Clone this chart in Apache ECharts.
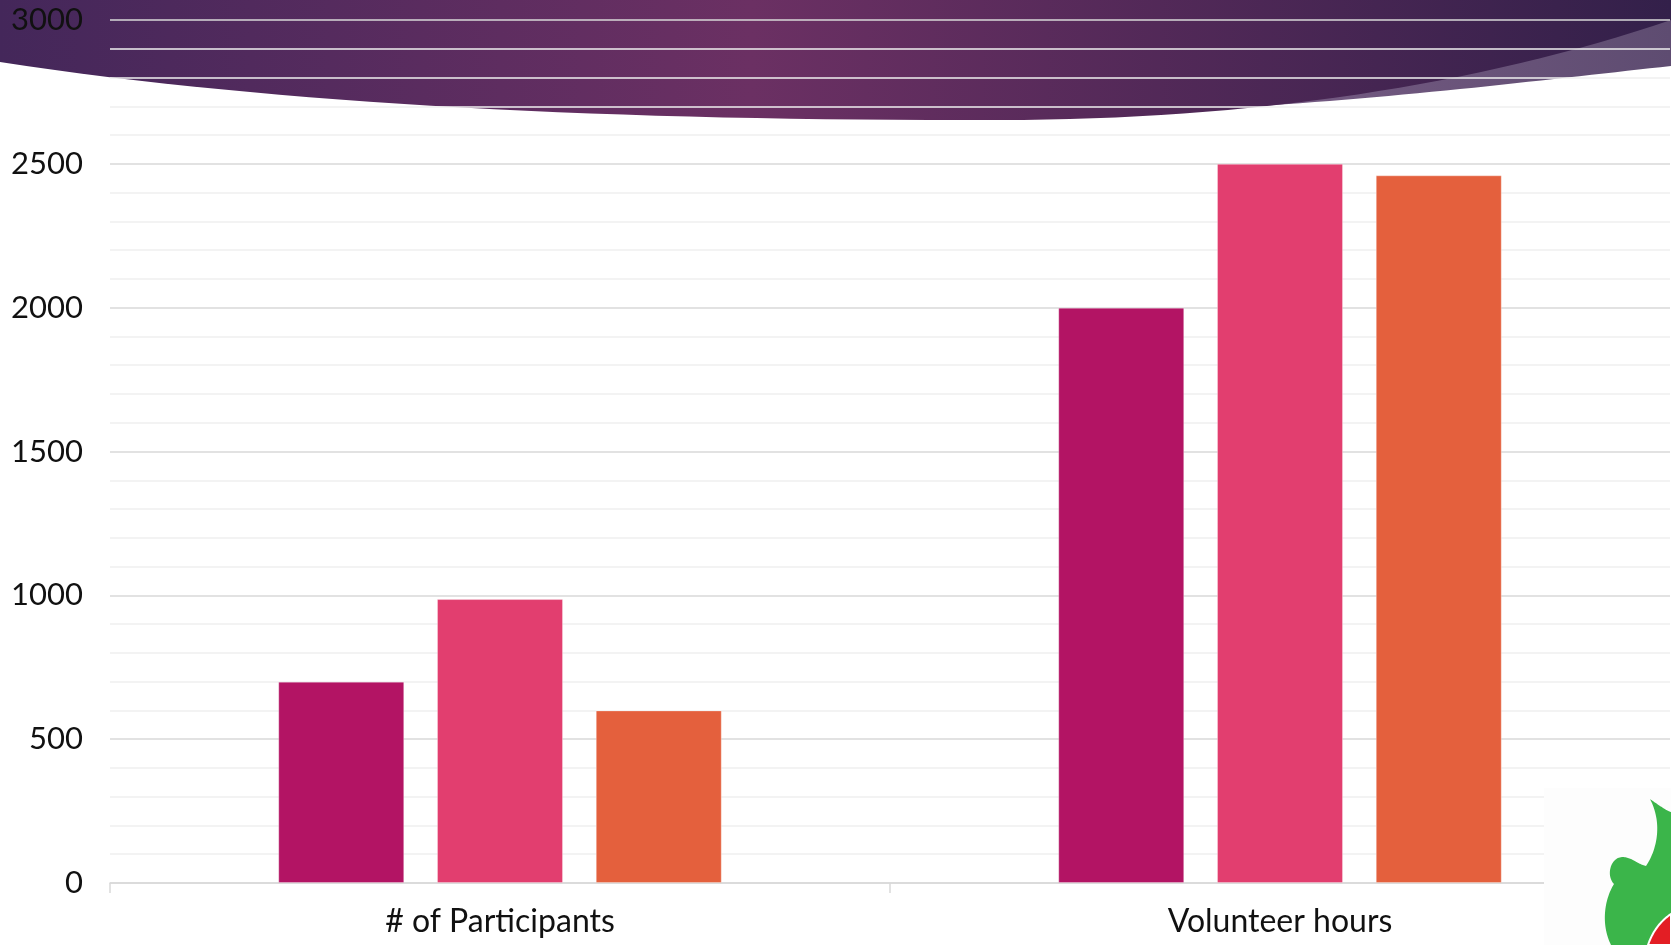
<!DOCTYPE html>
<html>
<head>
<meta charset="utf-8">
<script src="https://cdn.jsdelivr.net/npm/echarts@6/dist/echarts.min.js"></script>
<style>
  html, body { margin: 0; padding: 0; background: #ffffff; }
  #chart { width: 1671px; height: 945px; }
</style>
</head>
<body>
<div id="chart"></div>
<script>
const categories = ['# of Participants', 'Volunteer hours'];
const seriesNames = ['Series 1', 'Series 2', 'Series 3'];
const series1 = [700, 2000];
const series2 = [987, 2500];
const series3 = [600, 2460];
const seriesColors = ['#b31464', '#e23e6f', '#e4603d'];
const yMin = 0, yMax = 3000, yInterval = 500;

const chart = echarts.init(document.getElementById('chart'), null, { renderer: 'canvas' });
const FONT = 'Lato, "Noto Sans", sans-serif';

function hGrad(stops) {
  return { type: 'linear', x: 0, y: 0, x2: 1, y2: 0,
    colorStops: stops.map(s => ({ offset: s[0], color: s[1] })) };
}
// Polygon points from a simple path description: ['M',x,y], ['L',x,y], ['C',x1,y1,x2,y2,x,y]
function shapePoints(cmds) {
  const pts = [];
  let cx = 0, cy = 0;
  cmds.forEach(c => {
    if (c[0] === 'M' || c[0] === 'L') { cx = c[1]; cy = c[2]; pts.push([cx, cy]); }
    else if (c[0] === 'C') {
      const [, x1, y1, x2, y2, x, y] = c;
      for (let i = 1; i <= 32; i++) {
        const t = i / 32, u = 1 - t;
        pts.push([
          u*u*u*cx + 3*u*u*t*x1 + 3*u*t*t*x2 + t*t*t*x,
          u*u*u*cy + 3*u*u*t*y1 + 3*u*t*t*y2 + t*t*t*y
        ]);
      }
      cx = x; cy = y;
    }
  });
  return pts;
}

const bandLight = shapePoints([['M',1671,0],['L',1671,66],['C',1560,78,1400,98,1240,107],['L',1240,0]]);
const bandDark = shapePoints([['M',0,0],['L',1671,0],['L',1671,20],['C',1480,85,1250,120,1000,120],['C',620,121,280,105,0,62]]);
const logoGreen = shapePoints([['M',1650,799],['C',1660,806,1667,811,1671,812],['L',1671,945],['L',1611,945],
  ['C',1601,925,1604,900,1614,884],['C',1606,876,1610,858,1622,857],['C',1632,857,1637,864,1646,866],
  ['C',1658,848,1662,822,1650,799]]);
const logoRed = shapePoints([['M',1648,945],['C',1653,930,1662,920,1671,914],['L',1671,945]]);

const seriesData = [series1, series2, series3];
const option = {
  backgroundColor: 'transparent',
  animation: false,
  grid: { left: 110, right: 1, top: 20, bottom: 62, containLabel: false },
  xAxis: {
    type: 'category',
    data: categories,
    axisLine: { show: true, lineStyle: { color: '#d9d9d9', width: 1.5 } },
    axisTick: { show: true, length: 10, lineStyle: { color: '#d9d9d9', width: 1.5 } },
    axisLabel: { color: '#111', fontSize: 32, fontFamily: FONT, margin: 23 },
    splitLine: { show: false }
  },
  yAxis: {
    type: 'value',
    min: yMin, max: yMax, interval: yInterval,
    axisLine: { show: false },
    axisTick: { show: false },
    axisLabel: { color: '#111', fontSize: 31, fontFamily: FONT, margin: 27, formatter: v => String(v) },
    splitLine: { show: true, lineStyle: { color: '#d9d9d9', width: 1.5 } },
    minorTick: { show: false, splitNumber: 5 },
    minorSplitLine: { show: true, lineStyle: { color: '#f0f0f0', width: 1.5 } }
  },
  series: seriesData.map((d, i) => ({
    name: seriesNames[i],
    type: 'bar',
    data: d,
    barWidth: 126,
    barGap: '26%',
    itemStyle: { color: seriesColors[i], borderColor: 'rgba(255,255,255,0.3)', borderWidth: 1 },
    z: 2
  })),
  graphic: [
    { type: 'polygon', z: -20, silent: true, shape: { points: bandLight },
      style: { fill: hGrad([[0, '#775c84'], [1, '#5e4c71']]) } },
    { type: 'polygon', z: -10, silent: true, shape: { points: bandDark },
      style: { fill: hGrad([[0, '#44275a'], [0.45, '#6b3063'], [1, '#33204a']]) } },
    { type: 'rect', z: 100, silent: true, shape: { x: 1544, y: 788, width: 127, height: 157 },
      style: { fill: '#fdfdfd' } },
    { type: 'polygon', z: 101, silent: true, shape: { points: logoGreen }, style: { fill: '#3bb54a' } },
    { type: 'polygon', z: 102, silent: true, shape: { points: logoRed },
      style: { fill: '#e31e24', stroke: '#ffffff', lineWidth: 2 } }
  ]
};
chart.setOption(option);
</script>
</body>
</html>
